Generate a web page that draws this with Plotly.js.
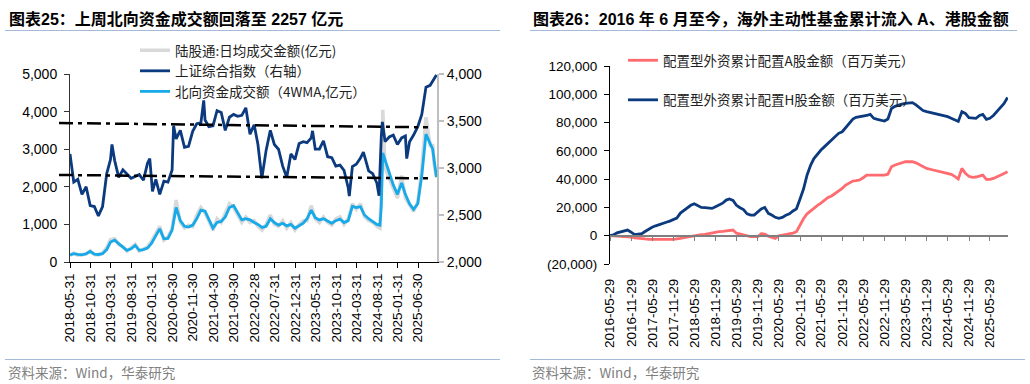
<!DOCTYPE html>
<html>
<head>
<meta charset="utf-8">
<script src="https://cdn.plot.ly/plotly-3.0.1.min.js"></script>
<style>html,body{margin:0;padding:0;background:#fff;}#chart{width:1030px;height:384px;}</style>
</head>
<body>
<div id="chart"></div>
<script>
// ---------- Left chart (图表25) ----------
const leftTicks = ['2018-05-31','2018-10-31','2019-03-31','2019-08-31','2020-01-31','2020-06-30','2020-11-30','2021-04-30','2021-09-30','2022-02-28','2022-07-31','2022-12-31','2023-05-31','2023-10-31','2024-03-31','2024-08-31','2025-01-31','2025-06-30'];

const flowDates = [
'2018-05-31','2018-06-28','2018-07-28','2018-08-28','2018-09-28','2018-10-28','2018-11-28','2018-12-28',
'2019-01-28','2019-02-28','2019-03-28','2019-04-28','2019-05-28','2019-06-28','2019-07-28','2019-08-28','2019-09-28','2019-10-28','2019-11-28','2019-12-28',
'2020-01-28','2020-02-28','2020-03-28','2020-04-28','2020-05-28','2020-06-28','2020-07-28','2020-08-28','2020-09-28','2020-10-28','2020-11-28','2020-12-28',
'2021-01-28','2021-02-28','2021-03-28','2021-04-28','2021-05-28','2021-06-28','2021-07-28','2021-08-28','2021-09-28','2021-10-28','2021-11-28','2021-12-28',
'2022-01-28','2022-02-28','2022-03-28','2022-04-28','2022-05-28','2022-06-28','2022-07-28','2022-08-28','2022-09-28','2022-10-28','2022-11-28','2022-12-28',
'2023-01-28','2023-02-28','2023-03-28','2023-04-28','2023-05-28','2023-06-28','2023-07-28','2023-08-28','2023-09-28','2023-10-28','2023-11-28','2023-12-28',
'2024-01-28','2024-02-28','2024-03-28','2024-04-28','2024-05-28','2024-06-28','2024-07-28','2024-08-28','2024-09-20','2024-09-30','2024-10-11','2024-10-28','2024-11-28','2024-12-28',
'2025-01-28','2025-02-28','2025-03-28','2025-04-28','2025-05-28','2025-06-28','2025-07-28','2025-08-28','2025-09-28','2025-10-17','2025-10-28','2025-11-14'];

// 陆股通:日均成交金额(亿元)
const dailyTurnover = [
170,240,180,200,210,300,200,190,
240,380,600,620,460,410,290,380,470,290,350,400,
560,760,950,580,660,900,1650,1050,900,980,940,1250,
1450,1300,1100,850,1150,1050,1300,1550,1450,1250,1050,1200,
1050,1100,950,850,1000,1250,1000,950,1100,900,1050,850,
1000,1100,1100,1500,1150,1050,1200,1050,980,1150,1200,1000,
1150,1550,1400,1550,1200,1100,1050,950,900,2000,4050,2500,2200,1950,
1700,2300,1700,1500,1350,1600,2500,3850,3100,3100,2600,2250];

// 北向资金成交额（4WMA,亿元）
const northbound4WMA = [
190,220,200,190,220,280,210,200,
220,330,530,580,490,390,310,350,440,310,330,370,
500,700,880,620,630,850,1450,1100,950,930,980,1150,
1380,1350,1150,900,1050,1080,1200,1450,1500,1300,1120,1150,
1120,1050,1000,920,950,1150,1050,980,1030,960,1000,900,
960,1030,1150,1380,1180,1120,1150,1080,1030,1100,1140,1050,
1100,1480,1450,1470,1250,1150,1080,1000,980,1500,2900,2700,2350,2050,
1800,2100,1800,1550,1400,1550,2300,3400,3150,3000,2700,2260];

const sseDates = [
'2018-05-31','2018-06-28','2018-07-28','2018-08-28','2018-09-28','2018-10-28','2018-11-28','2018-12-28',
'2019-01-28','2019-02-28','2019-03-28','2019-04-08','2019-04-28','2019-05-28','2019-06-28','2019-07-28','2019-08-28','2019-09-28','2019-10-28','2019-11-28','2019-12-28',
'2020-01-14','2020-02-03','2020-02-28','2020-03-28','2020-04-28','2020-05-28','2020-06-28','2020-07-09','2020-07-28','2020-08-28','2020-09-28','2020-10-28','2020-11-28','2020-12-28',
'2021-01-28','2021-02-18','2021-02-28','2021-03-28','2021-04-28','2021-05-28','2021-06-28','2021-07-28','2021-08-28','2021-09-28','2021-10-28','2021-11-28','2021-12-28',
'2022-01-28','2022-02-28','2022-03-28','2022-04-26','2022-05-28','2022-06-28','2022-07-28','2022-08-28','2022-09-28','2022-10-28','2022-11-28','2022-12-28',
'2023-01-28','2023-02-28','2023-03-28','2023-04-28','2023-05-08','2023-05-28','2023-06-28','2023-07-28','2023-08-28','2023-09-28','2023-10-28','2023-11-28','2023-12-28',
'2024-01-28','2024-02-05','2024-02-28','2024-03-28','2024-04-28','2024-05-20','2024-06-28','2024-07-28','2024-08-28','2024-09-13','2024-09-30','2024-10-08','2024-10-28','2024-11-28','2024-12-28',
'2025-01-28','2025-02-28','2025-03-28','2025-04-07','2025-04-28','2025-05-28','2025-06-28','2025-07-28','2025-08-28','2025-09-28','2025-10-28','2025-11-14'];

// 上证综合指数（右轴）
const sseIndex = [
3150,2850,2880,2720,2800,2600,2590,2490,
2590,2940,3090,3250,3080,2900,2980,2930,2890,2910,2930,2870,3050,
3100,2750,2880,2720,2860,2850,2980,3450,3310,3400,3220,3230,3390,3470,
3480,3720,3510,3440,3450,3610,3590,3400,3540,3570,3550,3560,3640,
3360,3460,3250,2890,3190,3400,3250,3200,3020,2900,3150,3090,
3260,3280,3270,3320,3395,3200,3200,3290,3120,3110,3020,3030,2975,
2790,2702,3015,3040,3105,3170,2970,2940,2840,2705,3340,3490,3280,3330,3350,
3250,3320,3340,3100,3280,3350,3440,3570,3860,3880,3950,3990];

// dash-dot reference lines (left-axis units, start / end)
const upperBand = [3697, 3582];
const lowerBand = [2314, 2225];

// ---------- Right chart (图表26) ----------
const rightTicks = ['2016-05-29','2016-11-29','2017-05-29','2017-11-29','2018-05-29','2018-11-29','2019-05-29','2019-11-29','2020-05-29','2020-11-29','2021-05-29','2021-11-29','2022-05-29','2022-11-29','2023-05-29','2023-11-29','2024-05-29','2024-11-29','2025-05-29'];
const rightYTickVals = [-20000,0,20000,40000,60000,80000,100000,120000];
const rightYTickText = ['(20,000)','0','20,000','40,000','60,000','80,000','100,000','120,000'];

const fundDates = [
'2016-05-29','2016-06-28','2016-07-28','2016-08-28','2016-09-28','2016-10-28','2016-11-28','2016-12-28',
'2017-01-28','2017-02-28','2017-03-28','2017-04-28','2017-05-28','2017-06-28','2017-07-28','2017-08-28','2017-09-28','2017-10-28','2017-11-28','2017-12-28',
'2018-01-28','2018-02-28','2018-03-28','2018-04-28','2018-05-28','2018-06-28','2018-07-28','2018-08-28','2018-09-28','2018-10-28','2018-11-28','2018-12-28',
'2019-01-28','2019-02-28','2019-03-28','2019-04-28','2019-05-28','2019-06-28','2019-07-28','2019-08-28','2019-09-28','2019-10-28','2019-11-28','2019-12-28',
'2020-01-28','2020-02-28','2020-03-28','2020-04-28','2020-05-28','2020-06-28','2020-07-28','2020-08-28','2020-09-28','2020-10-28','2020-11-28','2020-12-28',
'2021-01-28','2021-02-28','2021-03-28','2021-04-28','2021-05-28','2021-06-28','2021-07-28','2021-08-28','2021-09-28','2021-10-28','2021-11-28','2021-12-28',
'2022-01-28','2022-02-28','2022-03-28','2022-04-28','2022-05-28','2022-06-28','2022-07-28','2022-08-28','2022-09-28','2022-10-28','2022-11-28','2022-12-28',
'2023-01-28','2023-02-28','2023-03-28','2023-04-28','2023-05-28','2023-06-28','2023-07-28','2023-08-28','2023-09-28','2023-10-28','2023-11-28','2023-12-28',
'2024-01-28','2024-02-28','2024-03-28','2024-04-28','2024-05-28','2024-06-28','2024-07-28','2024-08-28','2024-09-28','2024-10-28','2024-11-28','2024-12-28',
'2025-01-28','2025-02-28','2025-03-28','2025-04-28','2025-05-28','2025-06-28','2025-07-28','2025-08-28','2025-09-28','2025-10-28'];

// 配置型外资累计配置A股金额（百万美元）
const cumA = [
0,-100,-300,-500,-600,-700,-1000,-1500,
-1900,-2100,-2300,-2500,-2600,-2600,-2700,-2700,-2700,-2600,-2600,-2400,
-1800,-1300,-900,-300,300,500,700,900,1500,2200,2600,2900,
3100,3300,3700,4000,1800,1200,300,-500,-700,-700,-700,1400,
1200,-300,-1200,-1900,0,500,900,1200,1800,2800,7600,12000,
15500,17500,19800,21500,23000,24800,27000,28100,30000,31400,33500,35800,
37500,38700,39000,39400,41000,42900,42900,42900,42900,42900,42900,43500,
48800,50000,50700,51500,52300,52300,52300,51500,50000,48500,47600,47000,
46400,46000,45300,44500,43800,43400,42000,40100,47600,44100,42000,41300,
41500,42000,42900,39800,39800,40500,41500,42900,44000,45300];

// 配置型外资累计配置H股金额（百万美元）
const cumH = [
0,600,2000,2600,3500,4000,2500,800,
1200,1500,3000,4800,6000,7000,8000,8800,9500,10300,11500,12500,
16000,18000,19800,21500,22600,21500,20000,19800,19500,19300,20500,21800,
23000,25200,26000,25000,21500,19800,18500,15500,14600,14600,17000,19000,
20000,15800,14600,13000,12300,13000,14500,15500,17500,19000,26000,33000,
43000,50000,54500,58000,60600,63000,65300,67500,70500,72400,73500,76500,
79500,82500,83700,84000,84200,85000,85800,83000,82300,81500,81100,82500,
90000,91500,92400,93000,93600,94000,94100,92500,90500,88500,87800,87200,
86500,86000,85300,85000,84200,83000,81800,80800,87700,86500,83500,83000,
83000,85000,85800,82300,83000,85000,87700,90500,93500,97800];

// ---------- Figure ----------
const W = 1030, H = 384;
const px = v => v / W;
const py = v => 1 - v / H;
const NAVY = '#0b3a7e', CYAN = '#17a9e8', GREY = '#d9d9d9', SALMON = '#ff6b6e';
const LATIN = 'Liberation Sans, Arial, Noto Sans CJK SC, sans-serif';
const CJK = 'Noto Sans CJK SC, Liberation Sans, sans-serif';

const traces = [
  {x: flowDates, y: dailyTurnover, name: '陆股通:日均成交金额(亿元)', type: 'scatter', mode: 'lines',
   line: {color: GREY, width: 3.5}, xaxis: 'x', yaxis: 'y', legend: 'legend', legendrank: 1},
  {x: sseDates, y: sseIndex, name: '上证综合指数（右轴）', type: 'scatter', mode: 'lines',
   line: {color: NAVY, width: 2.8}, xaxis: 'x', yaxis: 'y2', legend: 'legend', legendrank: 2},
  {x: flowDates, y: northbound4WMA, name: '北向资金成交额（4WMA,亿元）', type: 'scatter', mode: 'lines',
   line: {color: CYAN, width: 2.8}, xaxis: 'x', yaxis: 'y', legend: 'legend', legendrank: 3},
  {x: fundDates, y: cumA, name: '配置型外资累计配置A股金额（百万美元）', type: 'scatter', mode: 'lines',
   line: {color: SALMON, width: 2.8}, xaxis: 'x2', yaxis: 'y3', legend: 'legend2', legendgroup: 'a', legendrank: 1},
  {x: fundDates, y: cumH, name: '配置型外资累计配置H股金额（百万美元）', type: 'scatter', mode: 'lines',
   line: {color: NAVY, width: 2.8}, xaxis: 'x2', yaxis: 'y3', legend: 'legend2', legendgroup: 'b', legendrank: 2}
];

const tickFont = {family: LATIN, size: 14, color: '#000'};
const legendFont = {family: CJK, size: 13.5, color: '#222'};

const layout = {
  width: W, height: H,
  margin: {l: 0, r: 0, t: 0, b: 0},
  paper_bgcolor: '#ffffff', plot_bgcolor: 'rgba(0,0,0,0)',
  font: {family: LATIN, size: 14, color: '#000'},
  showlegend: true,
  xaxis: {
    domain: [px(70), px(437)], anchor: 'y', type: 'date',
    range: ['2018-05-31', '2025-11-18'],
    tickmode: 'array', tickvals: leftTicks, ticktext: leftTicks, tickangle: -90,
    ticks: 'outside', ticklen: 5, tickcolor: '#000', tickwidth: 1,
    showline: true, linecolor: '#000', linewidth: 1,
    showgrid: false, zeroline: false,
    tickfont: {family: LATIN, size: 13.5, color: '#000'}
  },
  yaxis: {
    domain: [py(262), py(74)], anchor: 'x', range: [0, 5000], dtick: 1000, tickformat: ',.0f',
    ticks: 'outside', ticklen: 5, tickcolor: '#333', showline: true, linecolor: '#333', linewidth: 1,
    ticklabelstandoff: 4,
    showgrid: false, zeroline: false, tickfont: tickFont
  },
  yaxis2: {
    overlaying: 'y', side: 'right', anchor: 'x', range: [2000, 4000], dtick: 500, tickformat: ',.0f',
    ticks: 'outside', ticklen: 5, tickcolor: '#bfbfbf', tickwidth: 1.5,
    showline: true, linecolor: '#bfbfbf', linewidth: 2,
    showgrid: false, zeroline: false, tickfont: tickFont
  },
  xaxis2: {
    domain: [px(610), px(1008)], anchor: 'free', position: py(235.7), type: 'date',
    range: ['2016-05-29', '2025-11-01'],
    tickmode: 'array', tickvals: rightTicks, ticktext: rightTicks, tickangle: -90,
    ticks: 'outside', ticklen: 5, tickcolor: '#7f7f7f', ticklabelstandoff: 32,
    showline: true, linecolor: '#7f7f7f', linewidth: 1.5,
    showgrid: false, zeroline: false,
    tickfont: {family: LATIN, size: 13.5, color: '#000'}
  },
  yaxis3: {
    domain: [py(264), py(66)], anchor: 'x2', range: [-20000, 120000],
    tickmode: 'array', tickvals: rightYTickVals, ticktext: rightYTickText,
    ticks: 'outside', ticklen: 5, tickcolor: '#000', showline: true, linecolor: '#000', linewidth: 1,
    ticklabelstandoff: 4,
    showgrid: false, zeroline: false, tickfont: {family: LATIN, size: 13.5, color: '#000'}
  },
  legend: {
    x: px(135), xanchor: 'left', y: py(35), yanchor: 'top',
    bgcolor: 'rgba(0,0,0,0)', borderwidth: 0, font: legendFont, tracegroupgap: 0
  },
  legend2: {
    x: px(623), xanchor: 'left', y: py(45), yanchor: 'top',
    bgcolor: 'rgba(0,0,0,0)', borderwidth: 0, font: legendFont, tracegroupgap: 19
  },
  shapes: [
    {type: 'line', xref: 'paper', yref: 'y', x0: px(59), x1: px(428), y0: upperBand[0], y1: upperBand[1],
     line: {color: '#000', width: 2.5, dash: '14px,5px,4px,5px'}},
    {type: 'line', xref: 'paper', yref: 'y', x0: px(59), x1: px(428), y0: lowerBand[0], y1: lowerBand[1],
     line: {color: '#000', width: 2.5, dash: '14px,5px,4px,5px'}},
    {type: 'line', xref: 'paper', yref: 'paper', x0: px(5), x1: px(500), y0: py(30.5), y1: py(30.5), line: {color: '#a5bad6', width: 1}},
    {type: 'line', xref: 'paper', yref: 'paper', x0: px(530), x1: px(1017), y0: py(30.5), y1: py(30.5), line: {color: '#a5bad6', width: 1}},
    {type: 'line', xref: 'paper', yref: 'paper', x0: px(5), x1: px(500), y0: py(359.5), y1: py(359.5), line: {color: '#a5bad6', width: 1}},
    {type: 'line', xref: 'paper', yref: 'paper', x0: px(530), x1: px(1025), y0: py(359.5), y1: py(359.5), line: {color: '#a5bad6', width: 1}}
  ],
  annotations: [
    {xref: 'paper', yref: 'paper', x: px(7), y: py(19), xanchor: 'left', yanchor: 'middle', showarrow: false,
     text: '图表25：上周北向资金成交额回落至 2257 亿元', font: {family: LATIN, size: 16, color: '#000', weight: 'bold'}},
    {xref: 'paper', yref: 'paper', x: px(531), y: py(19), xanchor: 'left', yanchor: 'middle', showarrow: false,
     text: '图表26：2016 年 6 月至今，海外主动性基金累计流入 A、港股金额', font: {family: LATIN, size: 16, color: '#000', weight: 'bold'}},
    {xref: 'paper', yref: 'paper', x: px(6), y: py(372), xanchor: 'left', yanchor: 'middle', showarrow: false,
     text: '资料来源：Wind，华泰研究', font: {family: CJK, size: 13.5, color: '#808080'}},
    {xref: 'paper', yref: 'paper', x: px(530), y: py(372), xanchor: 'left', yanchor: 'middle', showarrow: false,
     text: '资料来源：Wind，华泰研究', font: {family: CJK, size: 13.5, color: '#808080'}}
  ]
};

Plotly.newPlot('chart', traces, layout, {displayModeBar: false, responsive: false});
</script>
</body>
</html>
